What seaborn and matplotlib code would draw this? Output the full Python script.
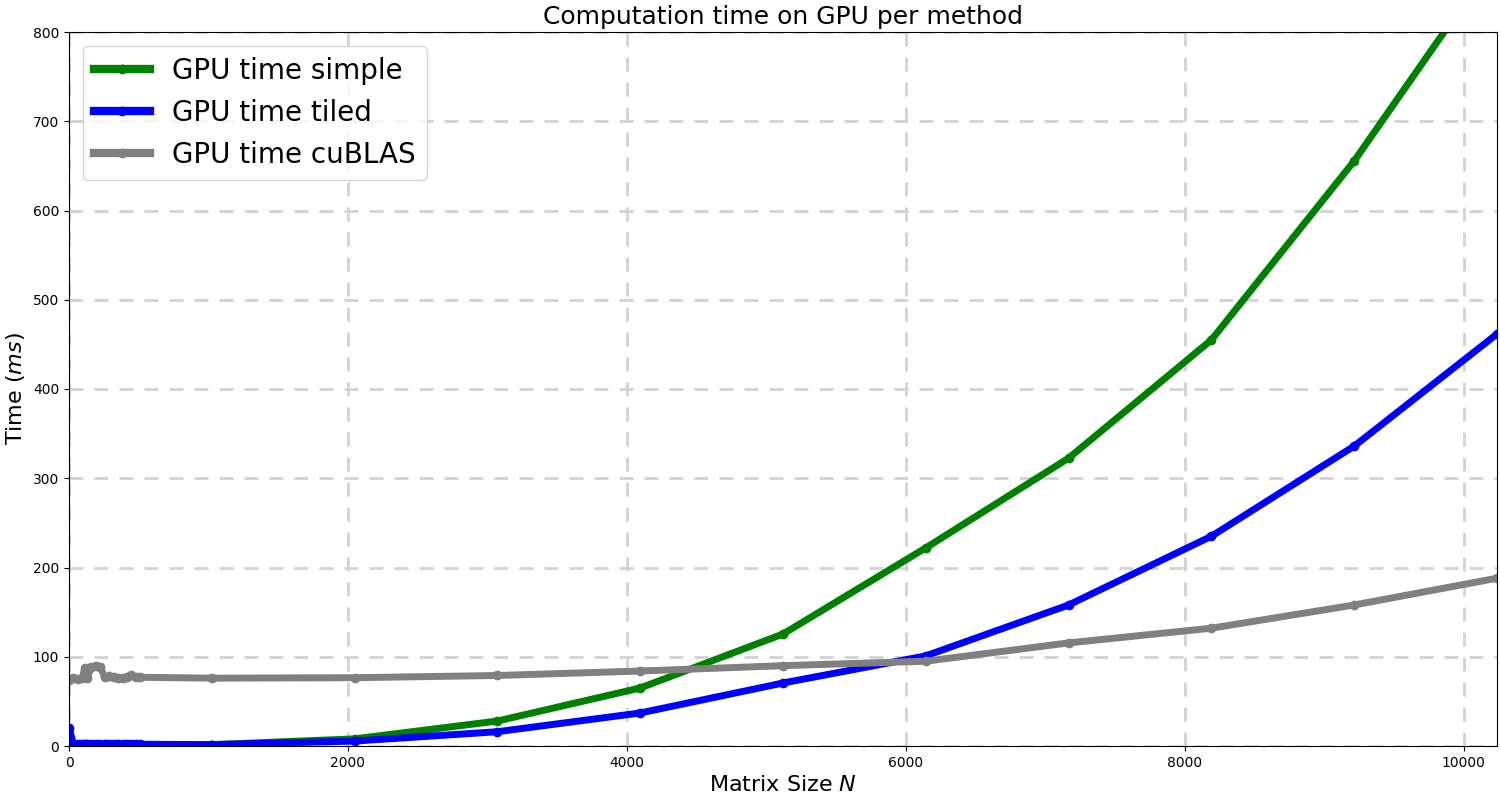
import numpy as np
import pandas as pd
import matplotlib
matplotlib.use("Agg")
import matplotlib.pyplot as plt
import seaborn as sns

# Matrix sizes
small_n = [1, 32, 64, 96, 112, 128, 160, 192, 224, 256, 288, 320, 352, 384, 416, 448, 480, 512]
large_n = [1024, 2048, 3072, 4096, 5120, 6144, 7168, 8192, 9216, 10240]

# GPU times (ms)
simple_small = [1.0, 1.0, 1.0, 1.0, 1.0, 1.0, 1.0, 1.0, 1.0, 1.0, 1.0, 1.0, 1.0, 1.0, 1.0, 1.0, 1.0, 1.2]
simple_large = [1.5, 8, 28, 65, 125.5, 222, 322.5, 455, 655.5, 885]

tiled_small = [20, 2.0, 2.0, 2.0, 2.0, 2.0, 2.0, 2.0, 2.0, 2.0, 2.0, 2.0, 2.0, 2.0, 2.0, 2.0, 2.0, 2.0]
tiled_large = [1.5, 5.5, 16, 37, 70.6, 101, 158, 235, 336, 461.6]

cublas_small = [74, 76, 75, 76, 87, 76, 88, 90, 89, 77, 78, 77, 76, 76, 77, 80, 77, 77]
cublas_large = [76, 76.5, 79, 84, 90, 95, 115.5, 132, 158, 188]

labels = ["GPU time simple", "GPU time tiled", "GPU time cuBLAS"]
colors = ["green", "blue", "gray"]

sizes = small_n + large_n
frames = []
for lab, s, l in [(labels[0], simple_small, simple_large),
                  (labels[1], tiled_small, tiled_large),
                  (labels[2], cublas_small, cublas_large)]:
    frames.append(pd.DataFrame({"N": sizes, "time": s + l, "method": lab}))
df = pd.concat(frames, ignore_index=True)

fig = plt.figure(figsize=(15, 8), dpi=100)
ax = fig.add_axes([0.046, 0.0675, 0.952, 0.8925])

sns.lineplot(data=df, x="N", y="time", hue="method", hue_order=labels,
             palette=dict(zip(labels, colors)), marker="o", markersize=6,
             linewidth=5, sort=False, estimator=None, ax=ax)
for ln in ax.lines:
    ln.set_markeredgecolor(ln.get_color())
    ln.set_markeredgewidth(1)

ax.set_xlim(0, 10240)
ax.set_ylim(0, 800)
ax.set_yticks(np.arange(0, 801, 100))
ax.set_xticks(np.arange(0, 10001, 2000))
ax.grid(True, linestyle=(0, (5, 4)), color="lightgray", linewidth=2)
ax.set_axisbelow(True)
ax.set_title("Computation time on GPU per method", fontsize=18)
ax.set_xlabel("Matrix Size $N$", fontsize=16)
ax.set_ylabel("Time ($ms$)", fontsize=16)
ax.tick_params(labelsize=10)
leg = ax.legend(loc="upper left", fontsize=20, handlelength=2.0)
for h in leg.get_lines():
    h.set_linewidth(6)
    h.set_markeredgecolor(h.get_color())
    h.set_markeredgewidth(1)

fig.savefig("out.png", dpi=100)
